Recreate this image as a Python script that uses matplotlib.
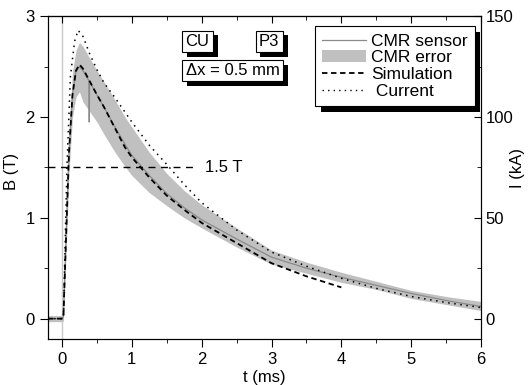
import matplotlib.pyplot as plt
import matplotlib.patheffects as pe

plt.rcParams['font.family'] = ['Liberation Sans', 'DejaVu Sans']
plt.rcParams['font.size'] = 12

# CMR sensor (B in T), with the short glitch near t = 0.39 ms
t_cmr = [-0.2, 0.0, 0.02, 0.05, 0.1, 0.15, 0.2, 0.25, 0.3, 0.385, 0.39, 0.395, 0.5, 0.6,
         0.75, 0.9, 1.0, 1.25, 1.5, 1.75, 2.0, 2.5, 3.0, 3.5, 4.0, 4.5, 5.0, 5.5, 6.0]
b_cmr = [0.0, 0.0, 0.02, 0.65, 1.65, 2.22, 2.45, 2.5, 2.46, 2.36, 1.95, 2.35, 2.22, 2.1,
         1.91, 1.73, 1.62, 1.42, 1.24, 1.1, 0.98, 0.79, 0.61, 0.5, 0.41, 0.33, 0.25, 0.18, 0.12]

# CMR error band
t_err = [-0.2, 0.0, 0.02, 0.05, 0.1, 0.15, 0.2, 0.25, 0.3, 0.4, 0.5, 0.6, 0.75, 0.9,
         1.0, 1.25, 1.5, 1.75, 2.0, 2.5, 3.0, 3.5, 4.0, 4.5, 5.0, 5.5, 6.0]
b_err_hi = [0.03, 0.03, 0.05, 0.8, 1.85, 2.45, 2.66, 2.74, 2.7, 2.58, 2.46, 2.35, 2.18, 2.0,
            1.9, 1.65, 1.44, 1.27, 1.13, 0.9, 0.68, 0.56, 0.46, 0.37, 0.28, 0.22, 0.17]
b_err_lo = [-0.03, -0.03, -0.02, 0.5, 1.45, 2.0, 2.2, 2.25, 2.15, 2.05, 1.95, 1.83, 1.66, 1.51,
            1.42, 1.25, 1.12, 1.0, 0.9, 0.71, 0.54, 0.45, 0.36, 0.29, 0.2, 0.14, 0.08]

# Simulation (B in T)
t_sim = [-0.2, 0.0, 0.02, 0.05, 0.1, 0.15, 0.2, 0.25, 0.3, 0.4, 0.5, 0.6, 0.75, 0.9,
         1.0, 1.25, 1.5, 1.75, 2.0, 2.5, 3.0, 3.5, 4.0]
b_sim = [0.0, 0.0, 0.02, 0.65, 1.65, 2.22, 2.46, 2.52, 2.48, 2.35, 2.22, 2.1, 1.9, 1.7,
         1.6, 1.4, 1.22, 1.08, 0.95, 0.75, 0.55, 0.42, 0.31]

# Current (kA)
t_cur = [-0.2, 0.0, 0.02, 0.07, 0.12, 0.18, 0.23, 0.3, 0.4, 0.5, 0.6, 0.75, 1.0, 1.25,
         1.5, 1.75, 2.0, 2.5, 3.0, 3.5, 4.0, 4.5, 5.0, 5.5, 6.0]
i_cur = [0, 0, 0, 75, 120, 137.5, 143, 140, 131, 123.5, 117, 110, 97.5, 86,
         76.5, 66.5, 57.5, 44, 33, 26, 20, 15, 11, 8, 5.5]

fig = plt.figure(figsize=(5.28, 3.85), dpi=100)
ax = fig.add_axes([0.091, 0.12, 0.82, 0.838])
ax2 = ax.twinx()

ax.axvline(0, color='#c8c8c8', lw=1, zorder=0)
ax.fill_between(t_err, b_err_lo, b_err_hi, color='#c0c0c0', lw=0, label='CMR error')
ax.plot(t_cmr, b_cmr, color='#8a8a8a', lw=0.9, label='CMR sensor')
ax.plot(t_sim, b_sim, color='black', lw=1.3, ls=(0, (3, 2)), label='Simulation')
ax2.plot(t_cur, i_cur, color='black', lw=1.1, ls=(0, (1, 3)))
ax.plot([], [], color='black', lw=1, ls=(0, (1, 3)), label=' Current')

ax.plot([-0.2, 1.9], [1.5, 1.5], color='black', lw=1, ls=(0, (5, 4)))
ax.text(2.05, 1.5, '1.5 T', va='center', ha='left')

ax.set_xlim(-0.2, 6)
ax.set_ylim(-0.2, 3)
ax2.set_ylim(-10, 150)
ax.set_xticks([0, 1, 2, 3, 4, 5, 6])
ax.set_xticks([0.5, 1.5, 2.5, 3.5, 4.5, 5.5], minor=True)
ax.set_yticks([0, 1, 2, 3])
ax.set_yticks([0.5, 1.5, 2.5], minor=True)
ax2.set_yticks([0, 50, 100, 150])
ax2.set_yticks([25, 75, 125], minor=True)
ax.tick_params(which='both', direction='out', top=False)
ax.tick_params(which='major', length=6)
ax.tick_params(which='minor', length=3)
ax2.tick_params(which='major', direction='in', length=5)
ax2.tick_params(which='minor', direction='in', length=3)
sec = ax.secondary_xaxis('top')
sec.set_xticks([0, 1, 2, 3, 4, 5, 6])
sec.set_xticks([0.5, 1.5, 2.5, 3.5, 4.5, 5.5], minor=True)
sec.tick_params(which='major', direction='in', length=5, labeltop=False)
sec.tick_params(which='minor', direction='in', length=3)

ax.set_xlabel('t (ms)', labelpad=2)
ax.set_ylabel('B (T)')
ax.yaxis.set_label_coords(-0.068, 0.52)
ax2.set_ylabel('I (kA)')
ax2.yaxis.set_label_coords(1.067, 0.53)

handles, labels = ax.get_legend_handles_labels()
order = ['CMR sensor', 'CMR error', 'Simulation', ' Current']
hl = {l: h for h, l in zip(handles, labels)}
leg = ax.legend([hl[k] for k in order], order, loc='upper right',
                bbox_to_anchor=(0.985, 0.968), borderaxespad=0, fancybox=False,
                framealpha=1, edgecolor='black', handlelength=2.5,
                handletextpad=0.3, borderpad=0.4, labelspacing=0.1, fontsize=12.5)
leg.get_frame().set_linewidth(0.8)
leg.get_frame().set_path_effects([
    pe.SimplePatchShadow(offset=(4, -4), shadow_rgbFace='black', alpha=1), pe.Normal()])

shadow = [pe.SimplePatchShadow(offset=(3.5, -3.5), shadow_rgbFace='black', alpha=1), pe.Normal()]
for x, y, s in [(1.77, 2.75, 'CU'), (2.82, 2.75, 'P3'), (1.77, 2.46, '\u0394x = 0.5 mm')]:
    tx = ax.text(x, y, s, va='center', ha='left',
                 bbox=dict(boxstyle='square,pad=0.2', fc='white', ec='black', lw=0.8))
    tx.get_bbox_patch().set_path_effects(shadow)

fig.savefig('out.png', dpi=100)
